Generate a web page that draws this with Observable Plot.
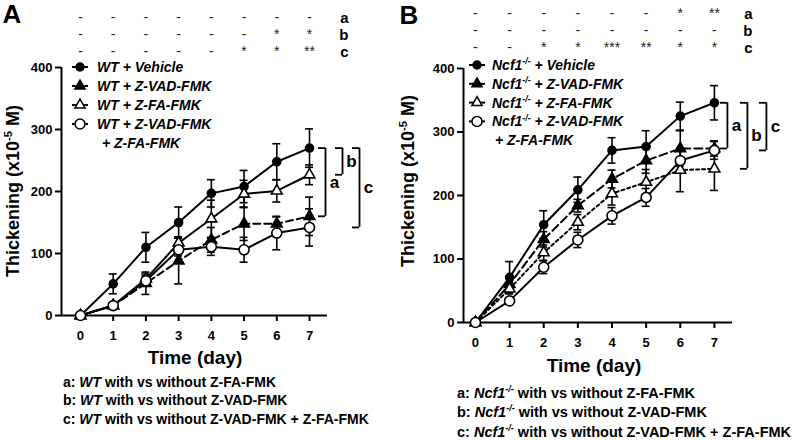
<!DOCTYPE html>
<html><head><meta charset="utf-8">
<script src="https://cdn.jsdelivr.net/npm/d3@7"></script>
<script src="https://cdn.jsdelivr.net/npm/@observablehq/plot@0.6"></script>
<style>
body{margin:0;background:#fff;}
#wrap{display:flex;width:800px;height:440px;overflow:hidden;}
svg text{font-family:"Liberation Sans",Arial,sans-serif;}
</style></head><body><div id="wrap"></div>
<script>
// ---------- data ----------
const days = [0, 1, 2, 3, 4, 5, 6, 7];
const treatments = ["Vehicle", "Z-VAD-FMK", "Z-FA-FMK", "Z-VAD-FMK + Z-FA-FMK"];

// Panel A: WT
const wtVehicle   = [0, 51, 110, 150, 197, 208, 248, 270];
const wtVehicleSE = [0, 16, 24, 25, 22, 26, 29, 31];
const wtZvad      = [0, 16, 52, 88, 122, 148, 148, 160];
const wtZvadSE    = [0, 4, 18, 37, 20, 27, 11, 31];
const wtZfa       = [0, 16, 59, 117, 156, 196, 201, 227];
const wtZfaSE     = [0, 4, 8, 10, 30, 22, 18, 16];
const wtBoth      = [0, 16, 56, 106, 111, 106, 133, 142];
const wtBothSE    = [0, 4, 8, 10, 14, 20, 27, 30];

// Panel B: Ncf1-/-
const koVehicle   = [0, 71, 154, 209, 271, 277, 325, 346];
const koVehicleSE = [0, 25, 22, 20, 20, 25, 22, 27];
const koZvad      = [0, 60, 131, 184, 226, 255, 274, 274];
const koZvadSE    = [0, 10, 12, 10, 14, 20, 28, 12];
const koZfa       = [0, 53, 110, 158, 203, 221, 240, 242];
const koZfaSE     = [0, 8, 12, 12, 18, 20, 34, 34];
const koBoth      = [0, 34, 87, 130, 168, 197, 255, 271];
const koBothSE    = [0, 5, 10, 12, 13, 14, 15, 14];

// significance rows (a, b, c) per day
const sigRowLabels = ["a", "b", "c"];
const wtSigA = ["-", "-", "-", "-", "-", "-", "-", "-"];
const wtSigB = ["-", "-", "-", "-", "-", "-", "*", "*"];
const wtSigC = ["-", "-", "-", "-", "-", "*", "*", "**"];
const koSigA = ["-", "-", "-", "-", "-", "-", "*", "**"];
const koSigB = ["-", "-", "-", "-", "-", "-", "-", "-"];
const koSigC = ["-", "-", "*", "*", "***", "**", "*", "*"];

const yTicks = [0, 100, 200, 300, 400];
const comparisons = ["Z-FA-FMK", "Z-VAD-FMK", "Z-VAD-FMK + Z-FA-FMK"];

// ---------- helpers ----------
const FONT = '"Liberation Sans", Arial, sans-serif';

function richText(parent, x, y, parts, {size = 14, anchor = "start", rotate = 0, weight = "bold"} = {}) {
  const t = parent.append("text")
    .attr("transform", `translate(${x},${y}) rotate(${rotate})`)
    .attr("text-anchor", anchor)
    .attr("font-size", size)
    .attr("font-weight", weight)
    .attr("font-family", FONT)
    .attr("fill", "black");
  let first = true, inSup = false;
  for (const p of parts) {
    const s = t.append("tspan").text(p.t);
    let dy = first ? size * 0.35 : 0;
    if (p.sup && !inSup) { dy -= size * 0.4; inSup = true; }
    else if (!p.sup && inSup) { dy += size * 0.4; inSup = false; }
    if (dy) s.attr("dy", dy);
    if (p.sup) s.attr("font-size", size * 0.62);
    if (p.i) s.attr("font-style", "italic");
    first = false;
  }
  return t;
}

function buildPanel(cfg) {
  const rows = [];
  cfg.series.forEach((s, k) => {
    days.forEach((d, i) => rows.push({series: treatments[k], k, day: d, value: s.values[i], se: s.se[i]}));
  });
  const errRows = rows.filter(d => d.se > 0);
  const lastDay = days[days.length - 1];
  const vLast = cfg.series[0].values[days.length - 1];

  const marks = [];
  // axis lines
  marks.push(Plot.ruleY([0], {strokeWidth: 2}));
  marks.push(Plot.ruleX([cfg.xDomain[0]], {strokeWidth: 2}));
  // error bars
  marks.push(Plot.ruleX(errRows, {x: "day", y1: d => d.value - d.se, y2: d => d.value + d.se, strokeWidth: 1.6}));
  marks.push(Plot.ruleY(errRows, {x1: "day", x2: "day", y: d => d.value + d.se, insetLeft: -4, insetRight: -4, strokeWidth: 1.6}));
  marks.push(Plot.ruleY(errRows, {x1: "day", x2: "day", y: d => d.value - d.se, insetLeft: -4, insetRight: -4, strokeWidth: 1.6}));
  // lines
  cfg.series.forEach((s, k) => {
    marks.push(Plot.line(rows.filter(d => d.k === k), {x: "day", y: "value", stroke: "black", strokeWidth: 2, strokeDasharray: cfg.styles[k].dash || null}));
  });
  // dots
  cfg.series.forEach((s, k) => {
    const st = cfg.styles[k];
    marks.push(Plot.dot(rows.filter(d => d.k === k), {x: "day", y: "value", symbol: st.symbol, r: st.r, fill: st.fill, stroke: "black", strokeWidth: 1.6}));
  });
  // brackets
  cfg.brackets.forEach((b, j) => {
    const bot = cfg.series[j + 1].values[days.length - 1];
    const datum = [{top: vLast, bot}];
    marks.push(Plot.ruleX(datum, {x: () => lastDay, y1: d => d.top, y2: d => d.bot, dx: b.off, strokeWidth: 1.8}));
    marks.push(Plot.ruleY([vLast, bot], {x1: () => lastDay, x2: () => lastDay, y: d => d, dx: b.off, insetLeft: -7, insetRight: 0, strokeWidth: 1.8}));
    marks.push(Plot.text(datum, {x: () => lastDay, y: d => (d.top + d.bot) / 2, text: () => sigRowLabels[j], dx: b.off + 9, fontSize: 17, fontWeight: "bold", fill: "black"}));
  });
  // significance rows
  cfg.sig.forEach((row, j) => {
    marks.push(Plot.text(days, {x: d => d, text: (d, i) => row[i], frameAnchor: "top", dy: cfg.sigDy[j], fontSize: 14, fontWeight: "normal", fill: "#222"}));
    marks.push(Plot.text([sigRowLabels[j]], {text: d => d, frameAnchor: "top-right", dx: cfg.sigLabelDx, dy: cfg.sigDy[j], fontSize: 15, fontWeight: "bold", fill: "black"}));
  });

  const plot = Plot.plot({
    width: 400, height: 440,
    marginLeft: cfg.m.l, marginRight: cfg.m.r, marginTop: cfg.m.t, marginBottom: cfg.m.b,
    style: {fontFamily: FONT, fontSize: "13px", fontWeight: "bold", background: "white", overflow: "visible", color: "black"},
    x: {domain: cfg.xDomain, ticks: days, tickSize: 6, tickPadding: 9, tickFormat: d => String(d), label: null},
    y: {domain: [0, 400], ticks: yTicks, tickSize: 6, tickPadding: 3, label: null},
    marks
  });

  const svg = d3.select(plot);
  svg.selectAll("[aria-label^='x-axis'] line, [aria-label^='x-axis'] path, [aria-label^='y-axis'] line, [aria-label^='y-axis'] path")
    .attr("stroke-width", 2);
  svg.selectAll("[aria-label^='x-axis'] text, [aria-label^='y-axis'] text").attr("font-weight", "bold").attr("fill", "black");

  const g = svg.append("g");
  // panel letter
  g.append("text").attr("x", cfg.letter.x).attr("y", cfg.letter.y).attr("font-size", 26)
    .attr("font-weight", "bold").attr("font-family", FONT).attr("text-anchor", "middle").text(cfg.letter.t);
  // y label
  richText(g, cfg.ylab.x, cfg.ylab.y, [{t: "Thickening (x10"}, {t: "-5", sup: true}, {t: " M)"}], {size: 18, anchor: "middle", rotate: -90});
  // x label
  richText(g, cfg.xlab.x, cfg.xlab.y, [{t: "Time (day)"}], {size: 19, anchor: "middle"});
  // legend
  const L = cfg.legend;
  const sym = {circle: d3.symbolCircle, triangle: d3.symbolTriangle};
  cfg.series.forEach((s, k) => {
    const y = L.y0 + k * L.dy;
    const st = cfg.styles[k];
    g.append("line").attr("x1", L.sx - 8).attr("x2", L.sx + 8).attr("y1", y).attr("y2", y).attr("stroke", "black").attr("stroke-width", 2);
    g.append("path").attr("d", d3.symbol(sym[st.symbol], st.symbol === "circle" ? Math.PI * st.r * st.r : 45)())
      .attr("transform", `translate(${L.sx},${y})`).attr("fill", st.fill).attr("stroke", "black").attr("stroke-width", 1.5);
    const name = treatments[k] === "Z-VAD-FMK + Z-FA-FMK" ? "Z-VAD-FMK" : treatments[k];
    richText(g, L.tx, y, [...cfg.geno, {t: " + " + name, i: true}], {size: 14});
    if (treatments[k] === "Z-VAD-FMK + Z-FA-FMK") {
      richText(g, L.tx2, y + L.dy, [{t: "+ Z-FA-FMK", i: true}], {size: 14});
    }
  });
  // captions
  comparisons.forEach((c, j) => {
    richText(g, cfg.cap.x, cfg.cap.y[j], [{t: sigRowLabels[j] + ": "}, ...cfg.geno, {t: " with vs without " + c}], {size: cfg.cap.size});
  });
  return plot;
}

const circleFilled = {symbol: "circle", r: 4, fill: "black"};
const triFilled = {symbol: "triangle", r: 4, fill: "black"};
const triOpen = {symbol: "triangle", r: 4, fill: "white"};
const circleOpen = {symbol: "circle", r: 5, fill: "white"};

const panelA = buildPanel({
  series: [
    {values: wtVehicle, se: wtVehicleSE},
    {values: wtZvad, se: wtZvadSE},
    {values: wtZfa, se: wtZfaSE},
    {values: wtBoth, se: wtBothSE}
  ],
  styles: [{...circleFilled}, {...triFilled, dash: "7,4"}, {...triOpen}, {...circleOpen}],
  m: {l: 61, r: 73, t: 67, b: 125},
  xDomain: [-0.58, 7.55],
  brackets: [{off: 16}, {off: 33}, {off: 50}],
  sig: [wtSigA, wtSigB, wtSigC],
  sigDy: [-55, -38, -21],
  sigLabelDx: 21,
  letter: {t: "A", x: 12, y: 23},
  ylab: {x: 13, y: 191},
  xlab: {x: 195, y: 357},
  geno: [{t: "WT", i: true}],
  legend: {sx: 80, tx: 97, tx2: 102, y0: 67, dy: 19},
  cap: {x: 63, y: [382, 400, 419], size: 14}
});

const panelB = buildPanel({
  series: [
    {values: koVehicle, se: koVehicleSE},
    {values: koZvad, se: koZvadSE},
    {values: koZfa, se: koZfaSE},
    {values: koBoth, se: koBothSE}
  ],
  styles: [{...circleFilled}, {...triFilled, dash: "8,4"}, {...triOpen, dash: "3,3"}, {...circleOpen}],
  m: {l: 63, r: 68, t: 68, b: 118},
  xDomain: [-0.35, 7.53],
  brackets: [{off: 13}, {off: 33}, {off: 52}],
  sig: [koSigA, koSigB, koSigC],
  sigDy: [-60, -43, -26],
  sigLabelDx: 20,
  letter: {t: "B", x: 9, y: 24},
  ylab: {x: 8, y: 181},
  xlab: {x: 194, y: 365},
  geno: [{t: "Ncf1", i: true}, {t: "-/-", i: true, sup: true}],
  legend: {sx: 77, tx: 92, tx2: 95, y0: 65, dy: 18.8},
  cap: {x: 57, y: [393, 412, 432], size: 14.5}
});

document.getElementById("wrap").append(panelA, panelB);
</script>
</body></html>
